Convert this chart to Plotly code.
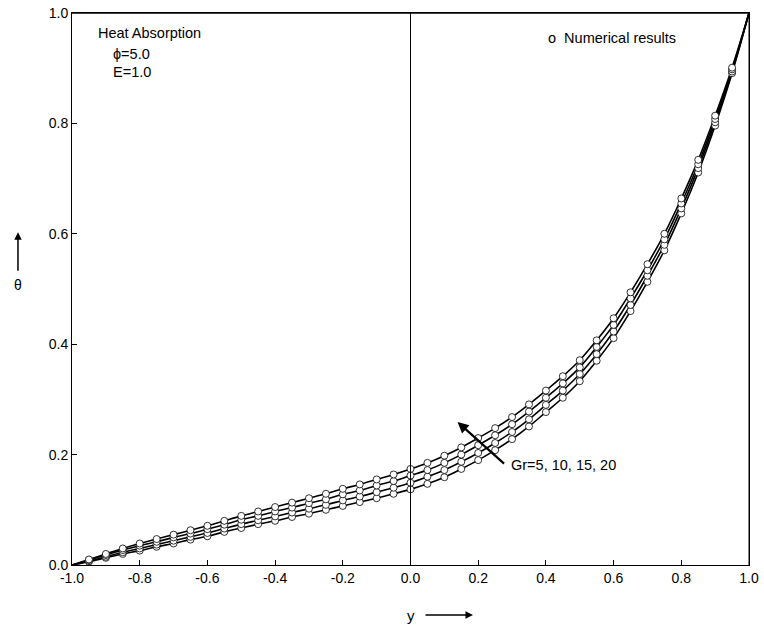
import plotly.graph_objects as go

y_pos = [-1.00, -0.95, -0.90, -0.85, -0.80, -0.75, -0.70, -0.65, -0.60, -0.55,
         -0.50, -0.45, -0.40, -0.35, -0.30, -0.25, -0.20, -0.15, -0.10, -0.05,
         0.00, 0.05, 0.10, 0.15, 0.20, 0.25, 0.30, 0.35, 0.40, 0.45,
         0.50, 0.55, 0.60, 0.65, 0.70, 0.75, 0.80, 0.85, 0.90, 0.95, 1.00]

theta_gr5 = [0.000, 0.006, 0.013, 0.020, 0.026, 0.033, 0.039, 0.046, 0.052, 0.060,
             0.067, 0.074, 0.080, 0.087, 0.093, 0.100, 0.107, 0.114, 0.121, 0.129,
             0.137, 0.147, 0.159, 0.174, 0.190, 0.208, 0.228, 0.251, 0.277, 0.303,
             0.333, 0.370, 0.411, 0.460, 0.513, 0.570, 0.637, 0.711, 0.796, 0.891, 1.000]

theta_gr10 = [0.000, 0.007, 0.015, 0.023, 0.030, 0.037, 0.044, 0.051, 0.058, 0.066,
              0.074, 0.081, 0.088, 0.095, 0.102, 0.109, 0.117, 0.124, 0.132, 0.140,
              0.149, 0.160, 0.172, 0.187, 0.203, 0.221, 0.241, 0.264, 0.290, 0.316,
              0.346, 0.382, 0.423, 0.471, 0.524, 0.580, 0.646, 0.719, 0.802, 0.894, 1.000]

theta_gr15 = [0.000, 0.009, 0.018, 0.027, 0.035, 0.042, 0.050, 0.057, 0.065, 0.073,
              0.082, 0.089, 0.097, 0.104, 0.112, 0.119, 0.128, 0.135, 0.144, 0.152,
              0.162, 0.172, 0.185, 0.200, 0.217, 0.235, 0.255, 0.278, 0.303, 0.329,
              0.358, 0.395, 0.435, 0.483, 0.534, 0.590, 0.655, 0.726, 0.808, 0.898, 1.000]

theta_gr20 = [0.000, 0.010, 0.020, 0.030, 0.039, 0.047, 0.055, 0.063, 0.071, 0.080,
              0.089, 0.097, 0.105, 0.113, 0.121, 0.129, 0.138, 0.146, 0.155, 0.164,
              0.174, 0.185, 0.198, 0.213, 0.230, 0.248, 0.268, 0.291, 0.316, 0.342,
              0.371, 0.407, 0.447, 0.494, 0.545, 0.600, 0.664, 0.734, 0.814, 0.901, 1.000]

series = [("Gr=5", theta_gr5), ("Gr=10", theta_gr10), ("Gr=15", theta_gr15), ("Gr=20", theta_gr20)]

x_ticks = [-1.0, -0.8, -0.6, -0.4, -0.2, 0.0, 0.2, 0.4, 0.6, 0.8, 1.0]
y_ticks = [0.0, 0.2, 0.4, 0.6, 0.8, 1.0]

FONT = "Liberation Sans, Arial, sans-serif"

fig = go.Figure()

for name, vals in series:
    fig.add_trace(go.Scatter(x=y_pos, y=vals, mode="lines", name=name,
                             line=dict(color="black", width=1.6, shape="spline"),
                             showlegend=False, hoverinfo="skip"))
for name, vals in series:
    fig.add_trace(go.Scatter(x=y_pos[1:-1], y=vals[1:-1], mode="markers", name=name + " numerical",
                             marker=dict(symbol="circle", size=7, color="white",
                                         line=dict(color="black", width=0.8)),
                             showlegend=False))

# vertical line at y = 0
fig.add_trace(go.Scatter(x=[0, 0], y=[0, 1], mode="lines",
                         line=dict(color="black", width=1), showlegend=False, hoverinfo="skip"))

fig.update_layout(
    width=764, height=629,
    margin=dict(l=72, r=15, t=13, b=64, autoexpand=False),
    paper_bgcolor="white", plot_bgcolor="white",
    font=dict(family=FONT, size=14, color="black"),
    xaxis=dict(range=[-1, 1], tickvals=x_ticks, ticktext=[f"{v:.1f}" for v in x_ticks],
               ticks="inside", ticklen=5, tickcolor="black", showgrid=False, zeroline=False,
               showline=True, linecolor="black", linewidth=1, mirror=True, automargin=False,
               ticklabeloverflow="allow", tickfont=dict(family=FONT, size=14)),
    yaxis=dict(range=[0, 1], tickvals=y_ticks, ticktext=[f"{v:.1f}" for v in y_ticks],
               ticks="inside", ticklen=5, tickcolor="black", showgrid=False, zeroline=False,
               showline=True, linecolor="black", linewidth=1, mirror=True, automargin=False,
               ticklabeloverflow="allow", tickfont=dict(family=FONT, size=14)),
    shapes=[dict(type="line", xref="paper", yref="paper", x0=0, x1=1, y0=1, y1=1,
                 line=dict(color="black", width=1.5), layer="above"),
            dict(type="line", xref="paper", yref="paper", x0=1, x1=1, y0=0, y1=1,
                 line=dict(color="black", width=1), layer="above")],
)

ann = []
# top-left block
ann.append(dict(x=-0.929, y=0.964, xref="x", yref="y", text="Heat Absorption", showarrow=False,
                xanchor="left", yanchor="middle", font=dict(size=14.5)))
ann.append(dict(x=-0.885, y=0.926, xref="x", yref="y", text="ϕ=5.0", showarrow=False,
                xanchor="left", yanchor="middle", font=dict(size=14.5)))
ann.append(dict(x=-0.885, y=0.893, xref="x", yref="y", text="E=1.0", showarrow=False,
                xanchor="left", yanchor="middle", font=dict(size=14.5)))
# legend-like text
ann.append(dict(x=0.399, y=0.955, xref="x", yref="y", text="o  Numerical results", showarrow=False,
                xanchor="left", yanchor="middle", font=dict(size=14.5)))
# Gr arrow
ann.append(dict(x=0.139, y=0.259, xref="x", yref="y", text="", showarrow=True,
                ax=48, ay=43, arrowhead=2, arrowsize=1, arrowwidth=2.2, arrowcolor="black"))
ann.append(dict(x=0.29, y=0.181, xref="x", yref="y", text="Gr=5, 10, 15, 20", showarrow=False,
                xanchor="left", yanchor="middle", font=dict(size=14.5)))
# x-axis title with arrow
ann.append(dict(x=0.5007, y=-0.0906, xref="paper", yref="paper", text="y", showarrow=False,
                xanchor="center", yanchor="middle", font=dict(size=15)))
ann.append(dict(x=0.5923, y=-0.0906, xref="paper", yref="paper", text="", showarrow=True,
                ax=-49, ay=0, arrowhead=2, arrowsize=1, arrowwidth=1.5, arrowcolor="black"))
# y-axis title with arrow
ann.append(dict(x=-0.0798, y=0.507, xref="paper", yref="paper", text="θ", showarrow=False,
                xanchor="center", yanchor="middle", font=dict(size=14)))
ann.append(dict(x=-0.0798, y=0.603, xref="paper", yref="paper", text="", showarrow=True,
                ax=0, ay=40, arrowhead=2, arrowsize=1, arrowwidth=1.5, arrowcolor="black"))

fig.update_layout(annotations=ann)

# remove the browser's default page margin so the 764x629 figure fills the window exactly
fig.write_html("out.html", config={"displayModeBar": False},
               post_script="document.body.style.margin='0';")
